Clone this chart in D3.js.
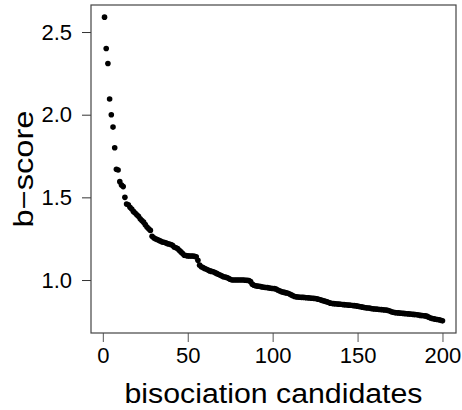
<!DOCTYPE html>
<meta charset="utf-8">
<head>
  <title>b-score of bisociation candidates</title>
</head>
<style>
body { margin: 0; background: #fff; }
svg text { font-family: "Liberation Sans", Arial, Helvetica, sans-serif; fill: #000; }
</style>
<body>
<script src="https://cdn.jsdelivr.net/npm/d3@7"></script>
<script>

// b-score of each candidate, ranked
var bscore = [
  2.59, 2.40, 2.31, 2.095, 2.00, 1.925, 1.80, 1.67, 1.665, 1.595,
  1.575, 1.565, 1.50, 1.46, 1.455, 1.44, 1.43, 1.415, 1.405, 1.395,
  1.385, 1.37, 1.36, 1.35, 1.335, 1.32, 1.31, 1.30, 1.265, 1.255,
  1.25, 1.245, 1.24, 1.235, 1.23, 1.228, 1.225, 1.22, 1.218, 1.215,
  1.21, 1.20, 1.195, 1.19, 1.18, 1.17, 1.16, 1.15, 1.148, 1.146,
  1.145, 1.145, 1.145, 1.143, 1.14, 1.12, 1.09, 1.08, 1.075, 1.07,
  1.065, 1.06, 1.055, 1.052, 1.05, 1.045, 1.04, 1.035, 1.03, 1.025,
  1.02, 1.018, 1.015, 1.01, 1.005, 1.0, 1.0, 1.0, 1.0, 1.0,
  1.0, 1.0, 1.0, 0.999, 0.998, 0.997, 0.99, 0.975, 0.968, 0.965,
  0.963, 0.962, 0.96, 0.958, 0.956, 0.955, 0.954, 0.952, 0.95, 0.949,
  0.948, 0.946, 0.94, 0.935, 0.93, 0.927, 0.925, 0.922, 0.92, 0.915,
  0.91, 0.905, 0.90, 0.898, 0.897, 0.896, 0.895, 0.895, 0.894, 0.893,
  0.892, 0.891, 0.89, 0.889, 0.888, 0.886, 0.884, 0.88, 0.877, 0.874,
  0.871, 0.868, 0.864, 0.86, 0.858, 0.857, 0.856, 0.855, 0.854, 0.853,
  0.852, 0.851, 0.85, 0.849, 0.848, 0.847, 0.846, 0.845, 0.844, 0.842,
  0.84, 0.838, 0.836, 0.834, 0.832, 0.831, 0.83, 0.828, 0.826, 0.825,
  0.824, 0.823, 0.822, 0.821, 0.82, 0.819, 0.818, 0.816, 0.812, 0.808,
  0.805, 0.803, 0.802, 0.801, 0.80, 0.799, 0.798, 0.797, 0.796, 0.795,
  0.794, 0.793, 0.792, 0.791, 0.79, 0.788, 0.786, 0.785, 0.784, 0.783,
  0.78, 0.775, 0.77, 0.767, 0.765, 0.763, 0.761, 0.759, 0.756, 0.753
];
var xTicks = [0, 50, 100, 150, 200];
var yTicks = [1.0, 1.5, 2.0, 2.5];
var xTitle = "bisociation candidates";
var yTitle = "b\u2212score";

var w = 462, h = 410;
var box = {left: 91, right: 456, top: 5, bottom: 333};

var svg = d3.select("body").append("svg")
  .attr("width", w)
  .attr("height", h);

// R style: limits padded 4% beyond the data
var n = bscore.length;
var xPad = (n - 1) * 0.04;
var yMin = d3.min(bscore), yMax = d3.max(bscore);
var yPad = (yMax - yMin) * 0.04;

var x = d3.scaleLinear()
  .domain([1 - xPad, n + xPad])
  .range([box.left, box.right]);

var y = d3.scaleLinear()
  .domain([yMin - yPad, yMax + yPad])
  .range([box.bottom, box.top]);

// x axis
var xAxis = svg.append("g")
  .attr("transform", "translate(0," + box.bottom + ")")
  .call(d3.axisBottom(x).tickValues(xTicks).tickSize(9).tickPadding(5).tickFormat(d3.format("d")));
xAxis.select(".domain").remove();
xAxis.selectAll("line").attr("stroke", "#555");
xAxis.selectAll("text").style("font-size", "22px");

// y axis
var yAxis = svg.append("g")
  .attr("transform", "translate(" + box.left + ",0)")
  .call(d3.axisLeft(y).tickValues(yTicks).tickSize(9).tickPadding(10).tickFormat(d3.format(".1f")));
yAxis.select(".domain").remove();
yAxis.selectAll("line").attr("stroke", "#333");
yAxis.selectAll("text").style("font-size", "22px");

// plot frame
svg.append("rect")
  .attr("x", box.left)
  .attr("y", box.top)
  .attr("width", box.right - box.left)
  .attr("height", box.bottom - box.top)
  .attr("fill", "none")
  .attr("stroke", "#444")
  .attr("stroke-width", 1.2);

// points
svg.append("g")
  .selectAll("circle")
  .data(bscore)
  .enter()
  .append("circle")
  .attr("cx", function(d, i) { return x(i + 1); })
  .attr("cy", function(d) { return y(d); })
  .attr("r", 2.8)
  .attr("fill", "#000");

// axis titles
svg.append("text")
  .attr("x", (box.left + box.right) / 2)
  .attr("y", 403)
  .attr("text-anchor", "middle")
  .attr("textLength", 298)
  .attr("lengthAdjust", "spacingAndGlyphs")
  .style("font-size", "27px")
  .text(xTitle);

svg.append("text")
  .attr("transform", "translate(33," + (box.top + box.bottom) / 2 + ") rotate(-90)")
  .attr("text-anchor", "middle")
  .attr("textLength", 117)
  .attr("lengthAdjust", "spacingAndGlyphs")
  .style("font-size", "27px")
  .text(yTitle);

</script>
</body>
</html>
